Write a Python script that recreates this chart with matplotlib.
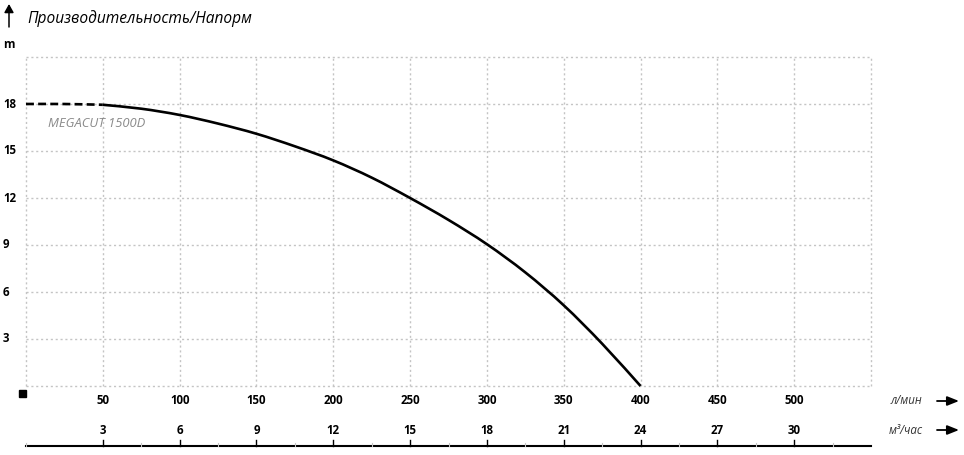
import matplotlib
matplotlib.use("Agg")
import matplotlib.pyplot as plt
import matplotlib.transforms as mtransforms
from matplotlib.path import Path
from matplotlib.patches import PathPatch, FancyArrowPatch, Rectangle
from matplotlib.lines import Line2D
import numpy as np

# Data
flow_dashed = [0, 25, 50]
head_dashed = [18.0, 18.0, 17.95]
flow_solid = [50, 75, 100, 125, 150, 175, 200, 225, 250, 275, 300, 325, 350, 375, 400]
head_solid = [17.95, 17.7, 17.3, 16.75, 16.1, 15.3, 14.4, 13.3, 12.0, 10.6, 9.05, 7.25, 5.15, 2.7, 0.0]
lmin_ticks = [50, 100, 150, 200, 250, 300, 350, 400, 450, 500]
m3h_labels = ["3", "6", "9", "12", "15", "18", "21", "24", "27", "30"]
y_ticks = [3, 6, 9, 12, 15, 18]
series_label = "MEGACUT 1500D"
title = "Производительность/Напорм"


def smooth_path(xs, ys):
    """Catmull-Rom curve through the given points as cubic Bezier segments."""
    p = np.column_stack([xs, ys]).astype(float)
    verts = [p[0]]
    codes = [Path.MOVETO]
    n = len(p)
    for i in range(n - 1):
        p0 = p[i - 1] if i > 0 else p[i]
        p1, p2 = p[i], p[i + 1]
        p3 = p[i + 2] if i + 2 < n else p[i + 1]
        c1 = p1 + (p2 - p0) / 6.0
        c2 = p2 - (p3 - p1) / 6.0
        verts += [c1, c2, p2]
        codes += [Path.CURVE4] * 3
    return Path(verts, codes)


W, H = 964, 455
fig = plt.figure(figsize=(W / 100, H / 100), dpi=100)
L, R, B, T = 26, 871, 386, 57
ax = fig.add_axes([L / W, 1 - B / H, (R - L) / W, (B - T) / H])
ax.set_xlim(0, 550)
ax.set_ylim(0, 21)
ax.axis("off")

grid_kw = dict(color="#c4c4c4", lw=1.0, linestyle=(0, (1.5, 2)), clip_on=False, zorder=1)
for gx in [0] + lmin_ticks + [550]:
    ax.axvline(gx, **grid_kw)
for gy in [0] + y_ticks + [21]:
    ax.axhline(gy, **grid_kw)

ax.add_patch(PathPatch(smooth_path(flow_dashed, head_dashed), fill=False, edgecolor="black",
                       lw=1.9, linestyle=(0, (3, 1.6)), zorder=3, clip_on=False))
ax.add_patch(PathPatch(smooth_path(flow_solid, head_solid), fill=False, edgecolor="black",
                       lw=1.9, zorder=3, clip_on=False, capstyle="butt"))

ax.text(14, 16.75, series_label, fontsize=9.4, style="italic", color="#8a8a8a",
        family="Open Sans", ha="left", va="center")

# y tick labels
ytr = mtransforms.blended_transform_factory(fig.transFigure, ax.transData)
for yv in y_ticks:
    fig.text(3 / W, yv, str(yv), transform=ytr, fontsize=8.3, fontweight="bold", family="Open Sans",
             ha="left", va="center")

fig.text(3 / W, 1 - 44 / H, "m", fontsize=8.5, fontweight="bold", family="Open Sans", ha="left", va="center")
fig.text(27 / W, 1 - 19 / H, title, fontsize=11.2, style="italic", family="Open Sans", ha="left", va="center")
fig.add_artist(FancyArrowPatch((9 / W, 1 - 27 / H), (9 / W, 1 - 4 / H),
               transform=fig.transFigure, arrowstyle="-|>,head_length=5,head_width=2.8",
               color="black", lw=1.1, mutation_scale=1, shrinkA=0, shrinkB=0))

# black square
fig.add_artist(Rectangle((19 / W, 1 - 397 / H), 7 / W, 7 / H,
               transform=fig.transFigure, color="black"))

# x labels
xtr = mtransforms.blended_transform_factory(ax.transData, fig.transFigure)
for xv, ml in zip(lmin_ticks, m3h_labels):
    fig.text(xv, 1 - 401 / H, str(xv), transform=xtr, fontsize=8.3, fontweight="bold",
             family="Open Sans", ha="center", va="center")
    fig.text(xv, 1 - 430 / H, ml, transform=xtr, fontsize=8.3, fontweight="bold",
             family="Open Sans", ha="center", va="center")

fig.text(906 / W, 1 - 401 / H, "л/мин", fontsize=8.3, style="italic", family="Open Sans",
         ha="center", va="center", color="#333333")
fig.text(906 / W, 1 - 430 / H, "м³/час", fontsize=8.3, style="italic", family="Open Sans",
         ha="center", va="center", color="#333333")
for yy in (401, 430):
    fig.add_artist(FancyArrowPatch((937 / W, 1 - yy / H), (959 / W, 1 - yy / H),
                   transform=fig.transFigure, arrowstyle="-|>,head_length=7,head_width=2.8",
                   color="black", lw=1.3, mutation_scale=1, shrinkA=0, shrinkB=0))

# bottom solid axis line with ticks
ybase = 1 - 446 / H
fig.add_artist(Line2D([L / W, R / W], [ybase, ybase], transform=fig.transFigure,
               color="black", lw=1.5))
for xv in lmin_ticks:
    fig.add_artist(Line2D([xv, xv], [ybase, ybase + 6 / H], transform=xtr,
                   color="black", lw=1.0))
for xv in [0] + [x + 25 for x in lmin_ticks]:
    fig.add_artist(Line2D([xv, xv], [ybase, ybase + 3 / H], transform=xtr,
                   color="#c4c4c4", lw=0.8))

fig.savefig("out.png", dpi=100)
